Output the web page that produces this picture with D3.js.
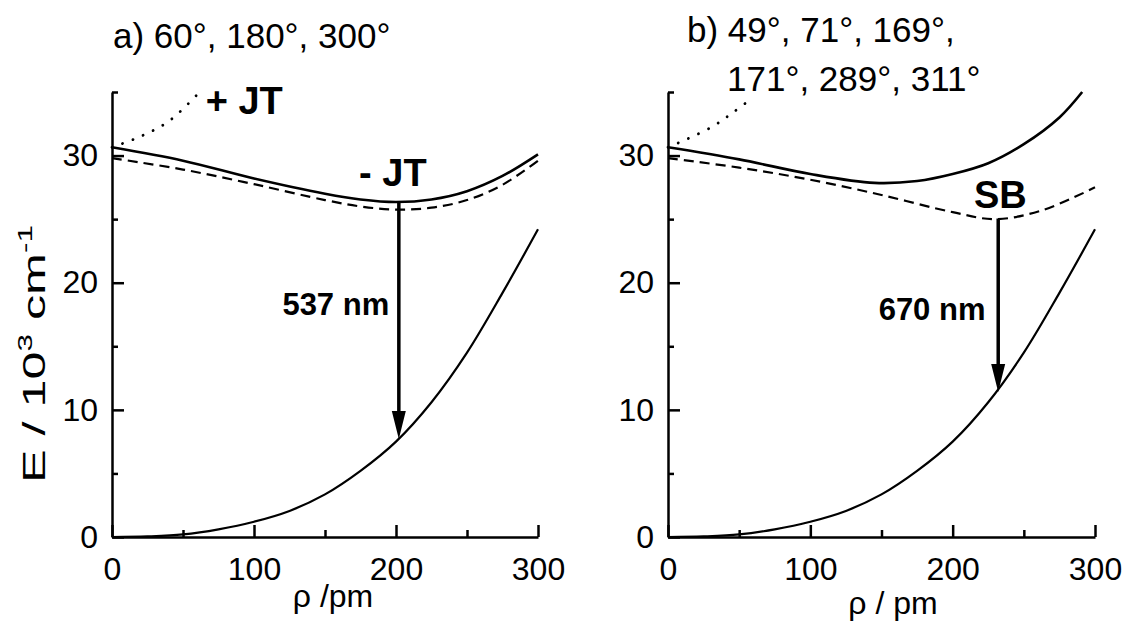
<!DOCTYPE html>
<html>
<head>
<meta charset="utf-8">
<script src="https://cdn.jsdelivr.net/npm/d3@7"></script>
<style>
  body { margin: 0; background: #fff; }
  svg { display: block; }
  text { font-family: "Liberation Sans", Arial, Helvetica, sans-serif; fill: #000; }
</style>
</head>
<body>
<div id="chart"></div>
<script>
// rho in pm, E in 10^3 cm^-1
const groundRho = [0, 25, 50, 75, 100, 125, 150, 175, 200, 225, 250, 275, 300];
const groundE   = [0, 0.05, 0.2, 0.6, 1.2, 2.05, 3.35, 5.2, 7.5, 10.6, 14.5, 19.2, 24.2];

// panel a) 60°, 180°, 300°
const aRho      = [0, 50, 100, 150, 175, 200, 225, 250, 275, 300];
const aUpperE   = [30.65, 29.6, 28.2, 27.0, 26.55, 26.35, 26.55, 27.2, 28.4, 30.1];
const aLowerE   = [29.8, 28.9, 27.75, 26.5, 26.0, 25.75, 25.9, 26.5, 27.7, 29.6];
const aDotRho   = [0, 20, 40, 60];
const aDotE     = [30.65, 31.5, 32.7, 34.8];
const aArrow    = [202, 26.35, 7.7];   // rho, E from, E to

// panel b) 49°, 71°, 169°, 171°, 289°, 311°
const bUpperRho = [0, 50, 100, 145, 175, 200, 225, 250, 275, 291];
const bUpperE   = [30.65, 29.7, 28.55, 27.85, 28.0, 28.55, 29.4, 30.9, 33.0, 35.0];
const bLowerRho = [0, 50, 100, 150, 200, 230, 263, 300];
const bLowerE   = [29.8, 29.05, 28.1, 26.9, 25.55, 25.0, 25.7, 27.5];
const bDotRho   = [0, 30, 47, 60];
const bDotE     = [30.65, 32.2, 33.5, 34.6];
const bArrow    = [232, 25.05, 11.4];

const xMajor = [0, 100, 200, 300];
const xMinor = [50, 150, 250];
const yMajor = [0, 10, 20, 30];
const yMinor = [5, 15, 25, 35];

const width = 1124, height = 624;
const svg = d3.select("#chart").append("svg")
    .attr("width", width)
    .attr("height", height);

const zip = (xs, ys) => xs.map((v, i) => [v, ys[i]]);

function drawPanel(p) {
    const x = d3.scaleLinear().domain([0, 300]).range([p.left, p.right]);
    const y = d3.scaleLinear().domain([0, 35]).range([537, 92]);
    const g = svg.append("g");

    // minor ticks first, then major axis with labels
    g.append("g").attr("transform", `translate(${p.left},0)`)
        .call(d3.axisLeft(y).tickValues(yMinor).tickSizeInner(-6).tickSizeOuter(0).tickFormat(""))
        .call(a => a.select(".domain").remove());
    g.append("g").attr("transform", "translate(0,537)")
        .call(d3.axisBottom(x).tickValues(xMinor).tickSizeInner(-7).tickSizeOuter(0).tickFormat(""))
        .call(a => a.select(".domain").remove());
    g.append("g").attr("transform", `translate(${p.left},0)`)
        .call(d3.axisLeft(y).tickValues(yMajor).tickSizeInner(-12).tickSizeOuter(0).tickPadding(14));
    g.append("g").attr("transform", "translate(0,537)")
        .call(d3.axisBottom(x).tickValues(xMajor).tickSizeInner(-12).tickSizeOuter(0).tickPadding(20));
    g.selectAll(".tick line, .domain").attr("stroke", "#000").attr("stroke-width", 2.5);
    g.selectAll(".tick text").attr("font-size", 32).attr("font-family", null);

    const line = d3.line().x(d => x(d[0])).y(d => y(d[1])).curve(d3.curveCatmullRom.alpha(0.5));

    g.append("path").attr("d", line(zip(groundRho, groundE)))
        .attr("fill", "none").attr("stroke", "#000").attr("stroke-width", 2.2);
    g.append("path").attr("d", line(p.upper))
        .attr("fill", "none").attr("stroke", "#000").attr("stroke-width", 2.6);
    g.append("path").attr("d", line(p.lower))
        .attr("fill", "none").attr("stroke", "#000").attr("stroke-width", 2.2)
        .attr("stroke-dasharray", "10,6");
    g.append("path").attr("d", line(p.dot))
        .attr("fill", "none").attr("stroke", "#000").attr("stroke-width", 2.8)
        .attr("stroke-linecap", "round").attr("stroke-dasharray", "0.1,11");

    // transition arrow
    const ax = x(p.arrow[0]), ay0 = y(p.arrow[1]), ay1 = y(p.arrow[2]);
    g.append("line").attr("x1", ax).attr("x2", ax).attr("y1", ay0).attr("y2", ay1 - 20)
        .attr("stroke", "#000").attr("stroke-width", 3.5);
    g.append("path").attr("d", `M${ax},${ay1}L${ax - 7},${ay1 - 28}L${ax + 7},${ay1 - 28}Z`)
        .attr("fill", "#000");

    p.notes.forEach(n => {
        g.append("text").attr("x", x(n.rho)).attr("y", y(n.E))
            .attr("font-size", n.size).attr("font-weight", "bold").text(n.text);
    });

    g.append("text").attr("x", p.xlabelX).attr("y", p.xlabelY)
        .attr("text-anchor", "middle").attr("font-size", 32).text(p.xlabel);

    p.title.forEach(t => {
        g.append("text").attr("x", t[0]).attr("y", t[1]).attr("font-size", 35).text(t[2]);
    });
}

drawPanel({
    left: 112, right: 538,
    upper: zip(aRho, aUpperE), lower: zip(aRho, aLowerE), dot: zip(aDotRho, aDotE),
    arrow: aArrow,
    notes: [
        { text: "+ JT", rho: 66, E: 33.3, size: 38 },
        { text: "- JT", rho: 174, E: 27.6, size: 38 },
        { text: "537 nm", rho: 120, E: 17.5, size: 31 }
    ],
    xlabel: "ρ /pm", xlabelX: 333, xlabelY: 607,
    title: [[113, 48, "a) 60°, 180°, 300°"]]
});

drawPanel({
    left: 668, right: 1095,
    upper: zip(bUpperRho, bUpperE), lower: zip(bLowerRho, bLowerE), dot: zip(bDotRho, bDotE),
    arrow: bArrow,
    notes: [
        { text: "SB", rho: 215, E: 25.9, size: 38 },
        { text: "670 nm", rho: 148, E: 17.1, size: 31 }
    ],
    xlabel: "ρ / pm", xlabelX: 893, xlabelY: 614,
    title: [[687, 42, "b) 49°, 71°, 169°,"], [727, 91, "171°, 289°, 311°"]]
});

// y axis title with superscripts, stretched to the original length
const yt = svg.append("text")
    .attr("text-anchor", "middle")
    .attr("font-size", 32);
yt.append("tspan").text("E / 10");
yt.append("tspan").attr("font-size", 20).attr("dy", -13).text("3");
yt.append("tspan").attr("dy", 13).text(" cm");
yt.append("tspan").attr("font-size", 20).attr("dy", -13).text("-1");
const yw = yt.node().getBBox().width;
yt.attr("transform", `translate(45,354) rotate(-90) scale(${258 / yw},1)`);
</script>
</body>
</html>
